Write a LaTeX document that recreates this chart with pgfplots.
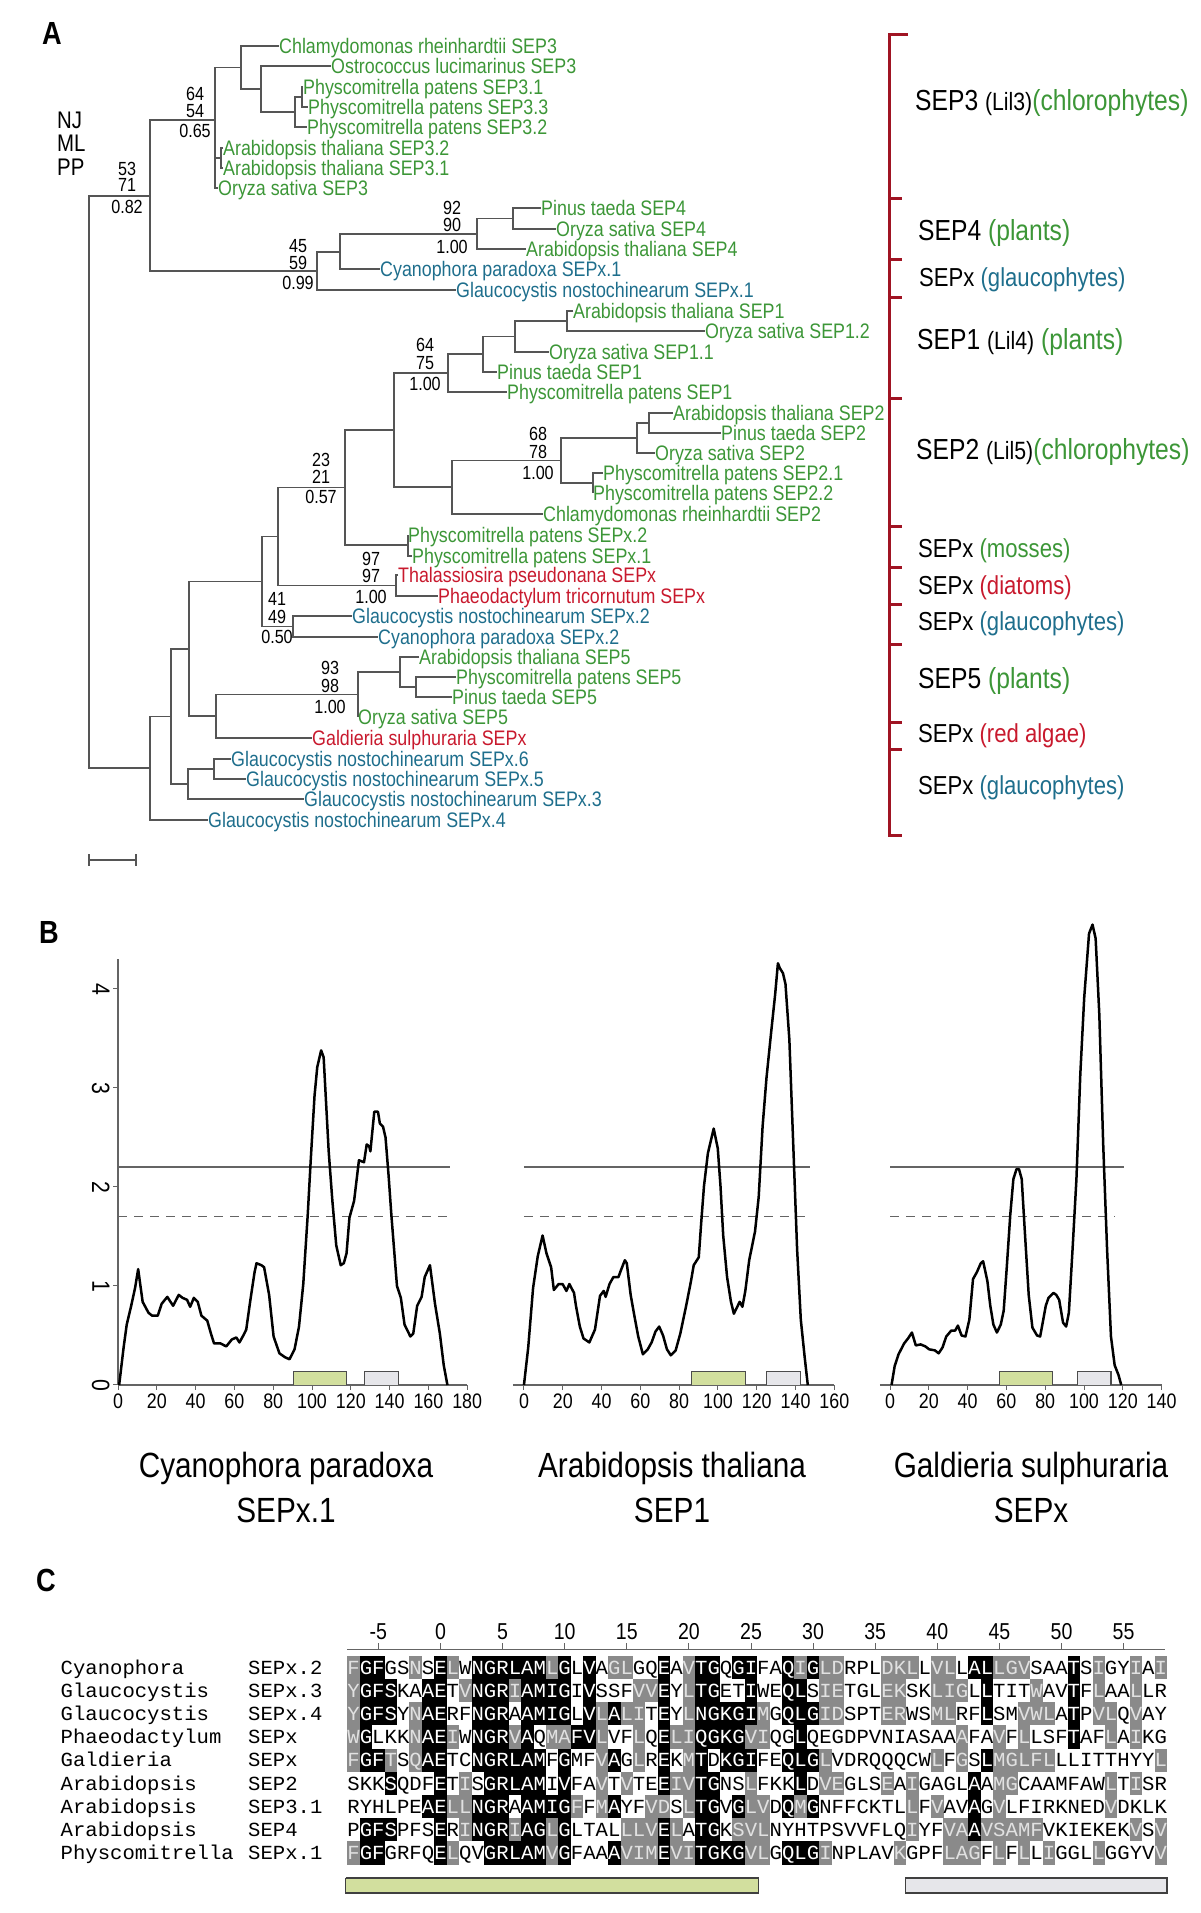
\documentclass[border=0pt]{standalone}
\usepackage{pgfplots}
\pgfplotsset{compat=1.18}
\usepackage{fontspec}
\setmainfont{Liberation Sans}
\newfontfamily\cf{Liberation Sans}[FakeStretch=0.85]
\newfontfamily\mf{Liberation Mono}[FakeStretch=1.03]
\newcommand\fs[1]{\fontsize{#1}{#1}\selectfont}
\definecolor{tgreen}{RGB}{60,150,55}
\definecolor{tblue}{RGB}{30,110,140}
\definecolor{tred}{RGB}{200,25,45}
\definecolor{bred}{RGB}{160,20,35}
\definecolor{treeline}{RGB}{85,85,85}
\definecolor{boxgreen}{RGB}{210,223,158}
\definecolor{boxgrey}{RGB}{230,230,234}
\definecolor{agrey}{RGB}{138,138,138}
\definecolor{gtext}{RGB}{225,225,225}
\definecolor{axgrey}{RGB}{100,100,100}
\pgfplotsset{/pgf/number format/assume math mode=true}
\tikzset{
 leaf/.style={anchor=base west, inner sep=0pt, font=\cf\fs{21}, yshift=-7.5pt},
 sup/.style={anchor=base, inner sep=0pt, font=\cf\fs{19}, yshift=-6.8pt},
 rl/.style={anchor=base west, inner sep=0pt, font=\cf, yshift=-10.4pt},
 rs/.style={anchor=base west, inner sep=0pt, font=\cf\fs{26}, yshift=-9.3pt},
 nm/.style={anchor=base west, inner sep=0pt, font=\mf\fs{20}},
 ttl/.style={anchor=base, inner sep=0pt, font=\cf\fs{35}},
 plab/.style={inner sep=0pt, font=\cf\bfseries\fs{32}},
}
\pgfplotsset{
 tree/.style={treeline, line width=1.4pt},
 brk/.style={bred, line width=3pt},
 hyd/.style={black, line width=2.5pt, line join=round},
 thr/.style={axgrey, line width=1.4pt},
 thrd/.style={axgrey, line width=1.4pt, dash pattern=on 9pt off 7pt},
 panelB/.style={x=1.94pt, y=99pt, ymin=0, clip=false,
   tick align=outside, major tick length=5pt,
   axis line style={axgrey, line width=1.3pt},
   tick style={axgrey, line width=1pt},
   ticklabel style={font=\cf\fs{21}, text=black}},
}
\newcount\alncol
\newcommand\alncell[2]{%
  \pgfmathsetmacro\alnx{347.3+12.42*\the\alncol}%
  \pgfmathsetmacro\alny{1913-(1667.5+23.2*\alnr)}%
  \def\alntc{black}%
  \if b#1\def\alntc{white}\fill[black] (\alnx pt,\alny pt-11.6pt) rectangle +(12.5pt,23.3pt);\fi
  \if g#1\def\alntc{gtext}\fill[agrey] (\alnx pt,\alny pt-11.6pt) rectangle +(12.5pt,23.3pt);\fi
  \node[anchor=base,inner sep=0pt,text=\alntc,font=\mf\fs{20}] at (\alnx pt+6.21pt,\alny pt-6.6pt) {#2};%
}
\def\alnstep#1#2\relax#3#4\relax{%
  \alncell{#3}{#1}%
  \global\advance\alncol by 1\relax
  \ifx\relax#2\relax\else\alnstep#2\relax#4\relax\fi}
\newcommand\alnrow[3]{\global\alncol=0\relax\def\alnr{#1}\alnstep#2\relax#3\relax}

\begin{document}
\begin{tikzpicture}
\useasboundingbox (0,0) rectangle (1200pt,1913pt);

% ================= base axis (pixel frame) =================
\begin{axis}[at={(0pt,0pt)}, anchor=south west, width=1200pt, height=1913pt,
  scale only axis, xmin=0, xmax=1200, ymin=0, ymax=1913, y dir=reverse,
  hide axis, clip=false]
% ---- tree branches ----
\addplot[tree] coordinates {(303,87)(302,87)(302,107)(308,107)};
\addplot[tree] coordinates {(302,97)(295,97)(295,127)(307,127)};
\addplot[tree] coordinates {(331,66)(261,66)(261,112)(295,112)};
\addplot[tree] coordinates {(279,46)(241,46)(241,89)(261,89)};
\addplot[tree] coordinates {(223,148)(221,148)(221,168)(223,168)};
\addplot[tree] coordinates {(241,67.5)(215,67.5)(215,188)(218,188)};
\addplot[tree] coordinates {(215,158)(221,158)};
\addplot[tree] coordinates {(541,208)(513,208)(513,229)(556,229)};
\addplot[tree] coordinates {(513,218.5)(477,218.5)(477,249)(526,249)};
\addplot[tree] coordinates {(477,234)(340,234)(340,269)(380,269)};
\addplot[tree] coordinates {(340,252)(317,252)(317,290)(456,290)};
\addplot[tree] coordinates {(215,120)(150,120)(150,271)(317,271)};
\addplot[tree] coordinates {(573,311)(567,311)(567,331)(705,331)};
\addplot[tree] coordinates {(567,321)(515,321)(515,352)(549,352)};
\addplot[tree] coordinates {(515,336.5)(483,336.5)(483,372)(497,372)};
\addplot[tree] coordinates {(483,354)(448,354)(448,392)(507,392)};
\addplot[tree] coordinates {(673,413)(649,413)(649,433)(721,433)};
\addplot[tree] coordinates {(649,423)(637,423)(637,453)(655,453)};
\addplot[tree] coordinates {(603,473)(593,473)(593,493)};
\addplot[tree] coordinates {(637,438)(561,438)(561,483)(593,483)};
\addplot[tree] coordinates {(561,460.5)(452,460.5)(452,514)(543,514)};
\addplot[tree] coordinates {(448,373)(394,373)(394,487)(452,487)};
\addplot[tree] coordinates {(408,535)(408,556)(412,556)};
\addplot[tree] coordinates {(394,430)(345,430)(345,545)(408,545)};
\addplot[tree] coordinates {(398,575)(396,575)(396,596)(438,596)};
\addplot[tree] coordinates {(345,487.5)(278,487.5)(278,585.5)(396,585.5)};
\addplot[tree] coordinates {(352,616)(293,616)(293,637)(378,637)};
\addplot[tree] coordinates {(278,536.5)(262,536.5)(262,626.5)(293,626.5)};
\addplot[tree] coordinates {(456,677)(416,677)(416,697)(452,697)};
\addplot[tree] coordinates {(419,657)(400,657)(400,687)(416,687)};
\addplot[tree] coordinates {(400,672)(358,672)(358,717)};
\addplot[tree] coordinates {(358,694.5)(216,694.5)(216,738)(312,738)};
\addplot[tree] coordinates {(262,581.5)(189,581.5)(189,716)(216,716)};
\addplot[tree] coordinates {(231,759)(214,759)(214,779)(246,779)};
\addplot[tree] coordinates {(214,769)(188,769)(188,799)(304,799)};
\addplot[tree] coordinates {(189,649)(171,649)(171,784)(188,784)};
\addplot[tree] coordinates {(171,716.5)(150,716.5)(150,820)(208,820)};
\addplot[tree] coordinates {(150,196)(89,196)(89,768)(150,768)};
% scale bar
\addplot[tree] coordinates {(89,854)(89,866)};
\addplot[tree] coordinates {(89,860)(136,860)};
\addplot[tree] coordinates {(136,854)(136,866)};
% ---- leaf labels ----
\node[leaf,text=tgreen] at (axis cs:279,46) {Chlamydomonas rheinhardtii SEP3};
\node[leaf,text=tgreen] at (axis cs:331,66) {Ostrococcus lucimarinus SEP3};
\node[leaf,text=tgreen] at (axis cs:303,87) {Physcomitrella patens SEP3.1};
\node[leaf,text=tgreen] at (axis cs:308,107) {Physcomitrella patens SEP3.3};
\node[leaf,text=tgreen] at (axis cs:307,127) {Physcomitrella patens SEP3.2};
\node[leaf,text=tgreen] at (axis cs:223,148) {Arabidopsis thaliana SEP3.2};
\node[leaf,text=tgreen] at (axis cs:223,168) {Arabidopsis thaliana SEP3.1};
\node[leaf,text=tgreen] at (axis cs:218,188) {Oryza sativa SEP3};
\node[leaf,text=tgreen] at (axis cs:541,208) {Pinus taeda SEP4};
\node[leaf,text=tgreen] at (axis cs:556,229) {Oryza sativa SEP4};
\node[leaf,text=tgreen] at (axis cs:526,249) {Arabidopsis thaliana SEP4};
\node[leaf,text=tblue] at (axis cs:380,269) {Cyanophora paradoxa SEPx.1};
\node[leaf,text=tblue] at (axis cs:456,290) {Glaucocystis nostochinearum SEPx.1};
\node[leaf,text=tgreen] at (axis cs:573,311) {Arabidopsis thaliana SEP1};
\node[leaf,text=tgreen] at (axis cs:705,331) {Oryza sativa SEP1.2};
\node[leaf,text=tgreen] at (axis cs:549,352) {Oryza sativa SEP1.1};
\node[leaf,text=tgreen] at (axis cs:497,372) {Pinus taeda SEP1};
\node[leaf,text=tgreen] at (axis cs:507,392) {Physcomitrella patens SEP1};
\node[leaf,text=tgreen] at (axis cs:673,413) {Arabidopsis thaliana SEP2};
\node[leaf,text=tgreen] at (axis cs:721,433) {Pinus taeda SEP2};
\node[leaf,text=tgreen] at (axis cs:655,453) {Oryza sativa SEP2};
\node[leaf,text=tgreen] at (axis cs:603,473) {Physcomitrella patens SEP2.1};
\node[leaf,text=tgreen] at (axis cs:593,493) {Physcomitrella patens SEP2.2};
\node[leaf,text=tgreen] at (axis cs:543,514) {Chlamydomonas rheinhardtii SEP2};
\node[leaf,text=tgreen] at (axis cs:408,535) {Physcomitrella patens SEPx.2};
\node[leaf,text=tgreen] at (axis cs:412,556) {Physcomitrella patens SEPx.1};
\node[leaf,text=tred] at (axis cs:398,575) {Thalassiosira pseudonana SEPx};
\node[leaf,text=tred] at (axis cs:438,596) {Phaeodactylum tricornutum SEPx};
\node[leaf,text=tblue] at (axis cs:352,616) {Glaucocystis nostochinearum SEPx.2};
\node[leaf,text=tblue] at (axis cs:378,637) {Cyanophora paradoxa SEPx.2};
\node[leaf,text=tgreen] at (axis cs:419,657) {Arabidopsis thaliana SEP5};
\node[leaf,text=tgreen] at (axis cs:456,677) {Physcomitrella patens SEP5};
\node[leaf,text=tgreen] at (axis cs:452,697) {Pinus taeda SEP5};
\node[leaf,text=tgreen] at (axis cs:358,717) {Oryza sativa SEP5};
\node[leaf,text=tred] at (axis cs:312,738) {Galdieria sulphuraria SEPx};
\node[leaf,text=tblue] at (axis cs:231,759) {Glaucocystis nostochinearum SEPx.6};
\node[leaf,text=tblue] at (axis cs:246,779) {Glaucocystis nostochinearum SEPx.5};
\node[leaf,text=tblue] at (axis cs:304,799) {Glaucocystis nostochinearum SEPx.3};
\node[leaf,text=tblue] at (axis cs:208,820) {Glaucocystis nostochinearum SEPx.4};
% ---- support values ----
\node[sup] at (axis cs:127,169) {53}; \node[sup] at (axis cs:127,185) {71}; \node[sup] at (axis cs:127,207) {0.82};
\node[sup] at (axis cs:195,94) {64}; \node[sup] at (axis cs:195,111) {54}; \node[sup] at (axis cs:195,131) {0.65};
\node[sup] at (axis cs:298,246) {45}; \node[sup] at (axis cs:298,263) {59}; \node[sup] at (axis cs:298,283) {0.99};
\node[sup] at (axis cs:452,208) {92}; \node[sup] at (axis cs:452,225) {90}; \node[sup] at (axis cs:452,247) {1.00};
\node[sup] at (axis cs:425,345) {64}; \node[sup] at (axis cs:425,363) {75}; \node[sup] at (axis cs:425,384) {1.00};
\node[sup] at (axis cs:538,434) {68}; \node[sup] at (axis cs:538,452) {78}; \node[sup] at (axis cs:538,473) {1.00};
\node[sup] at (axis cs:321,460) {23}; \node[sup] at (axis cs:321,477) {21}; \node[sup] at (axis cs:321,497) {0.57};
\node[sup] at (axis cs:371,559) {97}; \node[sup] at (axis cs:371,576) {97}; \node[sup] at (axis cs:371,597) {1.00};
\node[sup] at (axis cs:277,599) {41}; \node[sup] at (axis cs:277,617) {49}; \node[sup] at (axis cs:277,637) {0.50};
\node[sup] at (axis cs:330,668) {93}; \node[sup] at (axis cs:330,686) {98}; \node[sup] at (axis cs:330,707) {1.00};
% NJ ML PP
\node[anchor=base west,inner sep=0pt,font=\cf\fs{24},yshift=-8.6pt] at (axis cs:57,120) {NJ};
\node[anchor=base west,inner sep=0pt,font=\cf\fs{24},yshift=-8.6pt] at (axis cs:57,143) {ML};
\node[anchor=base west,inner sep=0pt,font=\cf\fs{24},yshift=-8.6pt] at (axis cs:57,167) {PP};
% ---- bracket ----
\addplot[brk] coordinates {(908,35)(889,35)(889,835)(902,835)};
\addplot[brk] coordinates {(889,199)(902,199)};
\addplot[brk] coordinates {(889,259)(902,259)};
\addplot[brk] coordinates {(889,297)(902,297)};
\addplot[brk] coordinates {(889,398)(902,398)};
\addplot[brk] coordinates {(889,526)(902,526)};
\addplot[brk] coordinates {(889,567)(902,567)};
\addplot[brk] coordinates {(889,604)(902,604)};
\addplot[brk] coordinates {(889,644)(902,644)};
\addplot[brk] coordinates {(889,722)(902,722)};
\addplot[brk] coordinates {(889,749)(902,749)};
% ---- right labels ----
\node[rl] at (axis cs:915,100) {\fs{29}SEP3 {\fs{25}(Lil3)}\textcolor{tgreen}{(chlorophytes)}};
\node[rl] at (axis cs:918,230) {\fs{29}SEP4 \textcolor{tgreen}{(plants)}};
\node[rs] at (axis cs:919,277) {SEPx \textcolor{tblue}{(glaucophytes)}};
\node[rl] at (axis cs:917,339) {\fs{29}SEP1 {\fs{25}(Lil4)} \textcolor{tgreen}{(plants)}};
\node[rl] at (axis cs:916,449) {\fs{29}SEP2 {\fs{25}(Lil5)}\textcolor{tgreen}{(chlorophytes)}};
\node[rs] at (axis cs:918,548) {SEPx \textcolor{tgreen}{(mosses)}};
\node[rs] at (axis cs:918,585) {SEPx \textcolor{tred}{(diatoms)}};
\node[rs] at (axis cs:918,621) {SEPx \textcolor{tblue}{(glaucophytes)}};
\node[rl] at (axis cs:918,678) {\fs{29}SEP5 \textcolor{tgreen}{(plants)}};
\node[rs] at (axis cs:918,733) {SEPx \textcolor{tred}{(red algae)}};
\node[rs] at (axis cs:918,785) {SEPx \textcolor{tblue}{(glaucophytes)}};
% ---- panel letters ----
\node[plab] at (axis cs:52,33) {A};
\node[plab] at (axis cs:49,932) {B};
\node[plab] at (axis cs:46,1580) {C};
% ---- panel B titles ----
\node[ttl] at (axis cs:286,1477) {Cyanophora paradoxa};
\node[ttl] at (axis cs:286,1522) {SEPx.1};
\node[ttl] at (axis cs:672,1477) {Arabidopsis thaliana};
\node[ttl] at (axis cs:672,1522) {SEP1};
\node[ttl] at (axis cs:1031,1477) {Galdieria sulphuraria};
\node[ttl] at (axis cs:1031,1522) {SEPx};
% ---- panel C names ----
\node[nm] at (axis cs:60.5,1674.1) {Cyanophora};    \node[nm] at (axis cs:248,1674.1) {SEPx.2};
\node[nm] at (axis cs:60.5,1697.3) {Glaucocystis};  \node[nm] at (axis cs:248,1697.3) {SEPx.3};
\node[nm] at (axis cs:60.5,1720.5) {Glaucocystis};  \node[nm] at (axis cs:248,1720.5) {SEPx.4};
\node[nm] at (axis cs:60.5,1743.7) {Phaeodactylum}; \node[nm] at (axis cs:248,1743.7) {SEPx};
\node[nm] at (axis cs:60.5,1766.9) {Galdieria};     \node[nm] at (axis cs:248,1766.9) {SEPx};
\node[nm] at (axis cs:60.5,1790.1) {Arabidopsis};   \node[nm] at (axis cs:248,1790.1) {SEP2};
\node[nm] at (axis cs:60.5,1813.3) {Arabidopsis};   \node[nm] at (axis cs:248,1813.3) {SEP3.1};
\node[nm] at (axis cs:60.5,1836.5) {Arabidopsis};   \node[nm] at (axis cs:248,1836.5) {SEP4};
\node[nm] at (axis cs:60.5,1859.7) {Physcomitrella};\node[nm] at (axis cs:248,1859.7) {SEPx.1};
% ---- panel C domain bars ----
\addplot[fill=boxgreen, draw=black!75, line width=1.2pt] coordinates {(345.6,1878)(758.8,1878)(758.8,1893)(345.6,1893)(345.6,1878)};
\addplot[fill=boxgrey, draw=black!75, line width=1.2pt] coordinates {(905.4,1878)(1167,1878)(1167,1893)(905.4,1893)(905.4,1878)};
\end{axis}

% ================= panel B: Cyanophora paradoxa SEPx.1 =================
\begin{axis}[panelB, at={(118pt,528pt)}, anchor=south west,
  xmin=0, xmax=180, ymax=4.3, axis x line*=bottom, axis y line*=left,
  xtick={0,20,...,180}, ytick={0,1,2,3,4},
  yticklabel style={rotate=-90, anchor=north, font=\cf\fs{25}}]
\addplot[thr] coordinates {(0,2.2)(171,2.2)};
\addplot[thrd] coordinates {(0,1.7)(171,1.7)};
\addplot[fill=boxgreen, draw=black!70, line width=1.1pt] coordinates {(90.6,0)(90.6,0.14)(118,0.14)(118,0)};
\addplot[fill=boxgrey, draw=black!70, line width=1.1pt] coordinates {(127.2,0)(127.2,0.14)(144.4,0.14)(144.4,0)};
\addplot[hyd] coordinates {
(0.6,0) (2.9,0.38) (4.5,0.61) (6.8,0.80) (8.8,0.98) (10.4,1.17) (12.7,0.84) (15.7,0.73) (17.6,0.70)
(20.5,0.70) (22.5,0.82) (25.4,0.89) (28.4,0.80) (31.3,0.91) (33.3,0.88) (35.6,0.86) (37.2,0.79)
(39.1,0.88) (41.1,0.84) (43.0,0.70) (46.0,0.65) (47.9,0.52) (49.5,0.42) (52.8,0.42) (55.8,0.39)
(58.7,0.46) (61.0,0.48) (62.6,0.43) (64.6,0.50) (66.1,0.56) (68.1,0.84) (70.4,1.14) (71.4,1.23)
(73.9,1.21) (75.3,1.19) (77.9,0.91) (80.2,0.49) (83.2,0.32) (86.1,0.28) (88.4,0.26) (91.0,0.36)
(93.3,0.59) (95.5,1.02) (97.8,1.72) (99.4,2.29) (101.3,2.92) (102.7,3.21) (104.7,3.38) (106.0,3.31)
(108.6,2.36) (110.5,1.86) (112.5,1.41) (114.8,1.21) (116.4,1.23) (117.8,1.33) (119.3,1.69)
(121.7,1.86) (124.2,2.27) (126.8,2.25) (128.2,2.43) (129.5,2.41) (130.1,2.36) (132.1,2.76)
(134.0,2.76) (135.0,2.64) (136.6,2.61) (137.9,2.50) (139.5,2.11) (140.9,1.72) (143.8,1.00)
(145.8,0.88) (147.7,0.61) (150.7,0.49) (152.2,0.52) (154.2,0.80) (156.5,0.89) (158.1,1.09)
(160.8,1.21) (163.4,0.82) (165.9,0.52) (167.9,0.20) (169.8,0)};
\end{axis}

% ================= panel B: Arabidopsis thaliana SEP1 =================
\begin{axis}[panelB, at={(512.9pt,528pt)}, anchor=south west,
  xmin=-5.7, xmax=160, ymax=4.7, axis x line*=bottom, axis y line=none,
  xtick={0,20,...,160}, ytick=\empty]
\addplot[thr] coordinates {(0,2.2)(147.3,2.2)};
\addplot[thrd] coordinates {(0,1.7)(145.3,1.7)};
\addplot[fill=boxgreen, draw=black!70, line width=1.1pt] coordinates {(86.5,0)(86.5,0.14)(114.1,0.14)(114.1,0)};
\addplot[fill=boxgrey, draw=black!70, line width=1.1pt] coordinates {(125,0)(125,0.14)(142.5,0.14)(142.5,0)};
\addplot[hyd] coordinates {
(0,0) (2.2,0.38) (4.7,0.98) (7.1,1.30) (9.6,1.51) (11.6,1.33) (14.0,1.19) (15.4,0.96) (17.9,1.02)
(19.9,1.02) (21.9,0.95) (23.4,1.02) (25.8,0.93) (26.8,0.80) (28.8,0.59) (30.7,0.47) (33.7,0.43)
(36.6,0.56) (39.2,0.90) (41.1,0.95) (42.1,0.89) (44.1,1.02) (46.1,1.09) (48.7,1.09) (50.0,1.16)
(52.0,1.26) (53.0,1.23) (55.0,0.91) (56.9,0.70) (58.9,0.49) (61.3,0.31) (63.8,0.36) (65.8,0.43)
(67.8,0.54) (69.7,0.59) (71.7,0.50) (73.7,0.36) (75.7,0.30) (78.2,0.35) (80.6,0.52) (83.6,0.80)
(86.1,1.05) (87.5,1.21) (90.1,1.29) (91.4,1.65) (92.8,2.01) (94.8,2.34) (97.8,2.59) (99.9,2.39)
(101.3,2.01) (102.7,1.51) (104.7,1.09) (106.7,0.84) (108.2,0.72) (110.2,0.80) (111.2,0.84)
(112.6,0.79) (114.1,0.95) (116.1,1.26) (119.1,1.55) (121.0,1.90) (123.0,2.61) (125.0,3.10)
(127.4,3.56) (129.5,3.95) (130.9,4.26) (131.9,4.21) (133.5,4.16) (134.8,4.05) (136.8,3.49)
(138.8,2.43) (140.8,1.37) (142.7,0.66) (144.7,0.28) (146.3,0)};
\end{axis}

% ================= panel B: Galdieria sulphuraria SEPx =================
\begin{axis}[panelB, at={(879.9pt,528pt)}, anchor=south west,
  xmin=-5.2, xmax=140, ymax=4.7, axis x line*=bottom, axis y line=none,
  xtick={0,20,...,140}, ytick=\empty]
\addplot[thr] coordinates {(0,2.2)(120.4,2.2)};
\addplot[thrd] coordinates {(0,1.7)(115.8,1.7)};
\addplot[fill=boxgreen, draw=black!70, line width=1.1pt] coordinates {(56.3,0)(56.3,0.14)(83.9,0.14)(83.9,0)};
\addplot[fill=boxgrey, draw=black!70, line width=1.1pt] coordinates {(96.5,0)(96.5,0.14)(113.9,0.14)(113.9,0)};
\addplot[hyd] coordinates {
(0.8,0) (2.4,0.19) (4.4,0.31) (7.3,0.42) (9.3,0.47) (11.3,0.53) (13.3,0.40) (15.8,0.41) (18.2,0.39)
(20.2,0.36) (23.1,0.35) (25.1,0.32) (27.1,0.38) (29.0,0.49) (31.6,0.55) (33.6,0.55) (35.0,0.60)
(36.9,0.50) (38.9,0.49) (40.9,0.66) (42.8,1.07) (44.8,1.14) (46.8,1.23) (48.0,1.25) (50.2,1.05)
(51.7,0.80) (53.3,0.61) (55.1,0.53) (57.1,0.61) (58.6,0.75) (60.2,1.19) (62.0,1.72) (63.6,2.08)
(65.2,2.18) (66.5,2.18) (67.9,2.08) (69.5,1.55) (71.5,0.91) (73.4,0.58) (75.8,0.50) (77.4,0.49)
(79.0,0.66) (80.3,0.80) (81.7,0.88) (84.3,0.93) (85.7,0.91) (87.2,0.86) (89.2,0.63) (90.8,0.59)
(92.2,0.73) (94.1,1.37) (96.1,2.08) (98.1,3.14) (100.1,3.91) (102.6,4.56) (104.4,4.65) (106.0,4.51)
(107.9,3.74) (109.9,2.43) (111.9,1.37) (113.9,0.49) (115.8,0.20) (117.8,0.10) (119.2,0)};
\end{axis}

% ================= panel C ruler =================
\begin{axis}[at={(347.35pt,253.7pt)}, anchor=south west, x=12.42pt, y=10pt,
  xmin=-7.5, xmax=58.3, ymin=-1, ymax=0, axis x line*=top, axis y line=none,
  ytick=\empty, xtick={-5,0,...,55},
  xticklabels={-5,0,5,10,15,20,25,30,35,40,45,50,55},
  tick align=outside, major tick length=6pt,
  axis line style={axgrey, line width=1.2pt}, tick style={axgrey, line width=1pt},
  xticklabel style={font=\cf\fs{23}, text=black}]
\addplot[draw=none] coordinates {(0,-0.5)};
\end{axis}

% ================= panel C alignment =================
\alnrow{0}{FGFGSNSELW NGRLAMLGLV AGLGQEAVTG QGIFAQIGLD RPLDKLLVLL ALLGVSAATS IGYIAI}{gbb..g.bg. bbbbbbgb.b .gg..b.gbb .bb..bgbgg ...ggg.gg. bbggg...b. g..g.g}
\alnrow{1}{YGFSKAAETV NGRIAMIGIV SSFVVEYLTG ETIWEQLSIE TGLEKSKLIG LLTITWAVTF LAALLR}{gbbb..bb.g bbbgbbbb.b ...ggb.gbb ..b..bb.gg ...gg..ggg .b...g..b. g..g..}
\alnrow{2}{YGFSYNAERF NGRAAMIGLV LALITEYLNG KGIMGQLGID SPTERWSMLR FLSMVWLATP VLQVAY}{gbbb.gbb.. bbb.bbbb.b gbgg.b.gbb bbbg.bbbgg ...gg..gg. .b..ggg.b. gg.g..}
\alnrow{3}{WGLKKNAEIW NGRVAQMAFV LVFLQELIQG KGVIQGLQEG DPVNIASAAA FAVFLLSFTA FLAIKG}{gb...gbbg. bbbgb.ggbb g..g.bggbb bbgg..b... .........g ..g.g...b. .g.g..}
\alnrow{4}{FGFTSQAETC NGRLAMFGMF VAGLREKMTD KGIFEQLGLV DRQQQCWLFG SLMGLFLLLI TTHYYL}{gbbg.gbb.. bbbbbb.b.. gb.g.b.gb. bbb..bbbg. .......g.g .bggggg... .....g}
\alnrow{5}{SKKSQDFETI SGRLAMIVFA VTVTEEIVTG NSLFKKLDVE GLSEAIGAGL AAMGCAAMFA WLTISR}{...b...b.g .bbbbb.b.. g.g..bggbb ..g...b.gg ...g.g.... b.gg...... .g.g..}
\alnrow{6}{RYHLPEAELL NGRAAMIGFF MAYFVDSLTG VGLVDQMGNF FCKTLLFVAV AGVLFIRKNE DVDKLK}{......bbgg bbb.bbbbg. gb..gg.gbb .bgg.bgb.. .....g.g.. b.g....... .g....}
\alnrow{7}{PGFSPFSERI NGRIAGLGLT ALLLVELATG KSVLNYHTPS VVFLQIYFVA AVSAMFVKIE KEKVSV}{.bbb...b.g bbbgbbgb.. ..gggbg.bb .ggg...... .....g..gg bggggg.... ...g.g}
\alnrow{8}{FGFGRFQELQ VGRLAMVGFA AAVIMEVITG KGVLGQLGIN PLAVKGPFLA GFLFLLIGGL LGGYVV}{gbb....bg. .bbbbbgb.. .bgggbggbb bbgg.bbbg. ....g...gg g.g.g.g... g....g}
\end{tikzpicture}
\end{document}
